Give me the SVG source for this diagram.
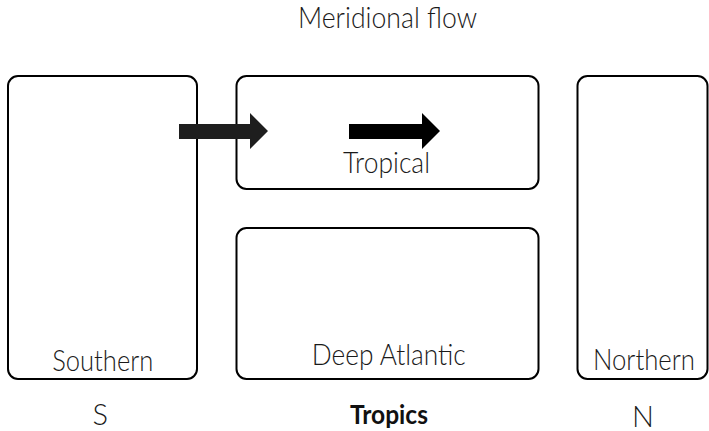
<svg xmlns="http://www.w3.org/2000/svg" width="709" height="431" viewBox="0 0 709 431">
<style>
.box{fill:#fff;stroke:#000;stroke-width:2}
.t{font-family:Lato,"Open Sans","Liberation Sans",sans-serif;font-weight:300;font-size:29px;fill:#1a1a1a;text-anchor:middle}
.b{font-family:Lato,"Open Sans","Liberation Sans",sans-serif;font-weight:700;font-size:27px;fill:#111;text-anchor:middle}
</style>
<rect width="709" height="431" fill="#fff"/>
<text class="t" x="387.5" y="28" font-size="28" textLength="179" lengthAdjust="spacingAndGlyphs">Meridional flow</text>
<g id="southern">
<rect class="box" x="8" y="76" width="189" height="303" rx="10"/>
<text class="t" x="102.8" y="371" textLength="101" lengthAdjust="spacingAndGlyphs">Southern</text>
</g>
<g id="tropical">
<rect class="box" x="236.5" y="76" width="302" height="113" rx="10"/>
<text class="t" x="386.5" y="173" textLength="87" lengthAdjust="spacingAndGlyphs">Tropical</text>
</g>
<g id="deep-atlantic">
<rect class="box" x="236.5" y="228" width="302" height="151" rx="10"/>
<text class="t" x="388.7" y="365" textLength="154" lengthAdjust="spacingAndGlyphs">Deep Atlantic</text>
</g>
<g id="northern">
<rect class="box" x="577.5" y="76" width="130" height="303" rx="10"/>
<text class="t" x="644" y="370" textLength="102" lengthAdjust="spacingAndGlyphs">Northern</text>
</g>
<g id="labels">
<text class="t" x="100.3" y="425" font-size="26" font-weight="400">S</text>
<text class="b" x="389" y="423.5" textLength="78" lengthAdjust="spacingAndGlyphs">Tropics</text>
<text class="t" x="643" y="426.5" font-size="27" font-weight="400">N</text>
</g>
<g id="connectors">
<polygon fill="#1e1e1e" points="179,124 250,124 250,113 268,131 250,149 250,139 179,139"/>
<polygon fill="#000" points="349,124 422,124 422,113 440,131 422,149 422,139 349,139"/>
</g>
</svg>
